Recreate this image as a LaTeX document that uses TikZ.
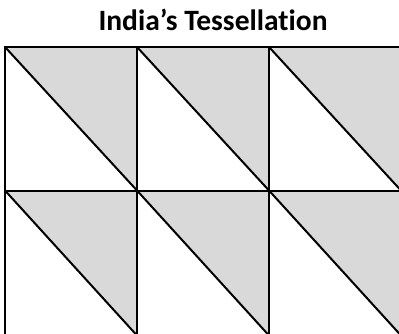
\documentclass[tikz,border=0pt]{standalone}
\usepackage{fontspec}
\setmainfont[Ligatures=NoCommon]{Carlito}
\definecolor{tilegray}{HTML}{D9D9D9}
\tikzset{
  tile/.style={fill=tilegray, draw=none},
  gridline/.style={draw=black, line width=2pt},
  titletext/.style={font=\fontsize{29.5}{35}\selectfont\bfseries, anchor=base, inner sep=0pt}
}
\begin{document}
\begin{tikzpicture}[x=1pt,y=-1pt]
\useasboundingbox (0,0) rectangle (399,333);
\node[titletext] (title) at (213,30) {India’s Tessellation};
\begin{scope}
\clip (0,0) rectangle (399,333);
\foreach \c in {0,1,2} {
  \foreach \r/\ya/\yb in {0/47/190.5,1/190.5/335.5} {
    \pgfmathsetmacro{\xa}{5+132*\c}
    \pgfmathsetmacro{\xb}{5+132*(\c+1)}
    \coordinate (tl\c\r) at (\xa,\ya);
    \coordinate (tr\c\r) at (\xb,\ya);
    \coordinate (br\c\r) at (\xb,\yb);
    \coordinate (bl\c\r) at (\xa,\yb);
    \fill[tile] (tl\c\r) -- (tr\c\r) -- (br\c\r) -- cycle;
    \draw[gridline] (tl\c\r) -- (br\c\r);
    \draw[gridline] (tl\c\r) -- (tr\c\r) -- (br\c\r) -- (bl\c\r) -- cycle;
  }
}
\end{scope}
\end{tikzpicture}
\end{document}
